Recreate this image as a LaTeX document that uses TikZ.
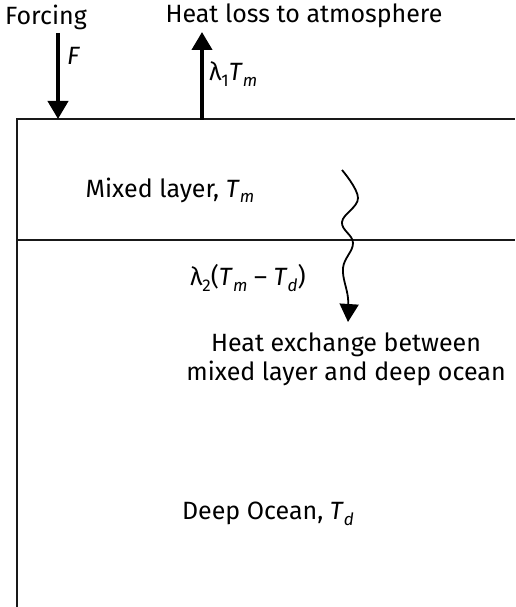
\documentclass[tikz,border=0pt]{standalone}
\usepackage{fontspec}
\setmainfont{Fira Sans}
\usetikzlibrary{arrows.meta}
\newcommand\lam{λ}
\newcommand\ita[1]{\textit{#1}}
\newcommand\sbs[1]{\raisebox{-0.22em}{\fontsize{17}{17}\selectfont #1}}
\begin{document}
\begin{tikzpicture}[x=1pt,y=-1pt,
  lbl/.style={inner sep=0pt,font=\fontsize{25}{29}\selectfont},
  boxline/.style={line width=1.4pt,color=black!90},
  bigarrow/.style={line width=4pt,-{Triangle[width=20pt,length=18pt]}},
  wavy/.style={line width=1.8pt,-{Triangle[width=19pt,length=18pt]}}]
\useasboundingbox (0,0) rectangle (515,607);
% box
\coordinate (tl) at (17,119);
\coordinate (tr) at (515,119);
\coordinate (ml) at (17,240);
\coordinate (mr) at (515,240);
\coordinate (bl) at (17,607);
\draw[boxline] (bl) -- (tl) -- (tr);
\draw[boxline,line width=2pt] (ml) -- (mr);
% forcing
\node[lbl] (forc) at (46,17) {Forcing};
\coordinate (fs) at (58,33);
\coordinate (fe) at (58,119);
\draw[bigarrow] (fs) -- (fe);
\node[lbl,anchor=west] (F) at (67,56) {\ita{F}};
% heat loss
\node[lbl] (hl) at (304,16) {Heat loss to atmosphere};
\coordinate (hs) at (202,120);
\coordinate (he) at (202,32);
\draw[bigarrow] (hs) -- (he);
\node[lbl,anchor=west] (l1) at (209,74) {\lam\sbs{1}\ita{T}\sbs{\itshape m}};
% layers
\node[lbl] (mix) at (170,190) {Mixed layer, \ita{T}\sbs{\itshape m}};
\node[lbl] (l2) at (248,278) {\lam\sbs{2}(\ita{T}\sbs{\itshape m} – \ita{T}\sbs{\itshape d})};
\node[lbl,align=center] (hx) at (346,359) {Heat exchange between\\mixed layer and deep ocean};
\node[lbl] (deep) at (268,514) {Deep Ocean, \ita{T}\sbs{\itshape d}};
% wavy exchange arrow
\draw[wavy] plot[smooth,tension=0.65] coordinates {(342,170) (358,198) (342,222) (353,243) (343,268) (348,298) (348,322)};
\end{tikzpicture}
\end{document}
